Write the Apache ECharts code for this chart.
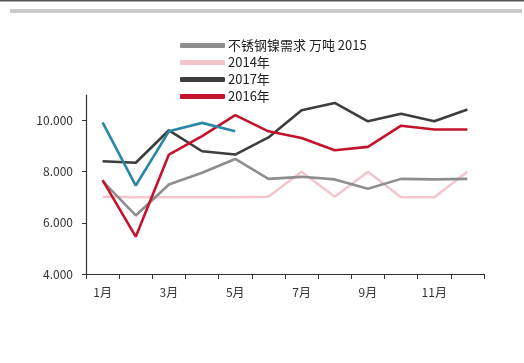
<!DOCTYPE html>
<html><head><meta charset="utf-8">
<script src="https://cdn.jsdelivr.net/npm/echarts@6/dist/echarts.min.js"></script>
<style>html,body{margin:0;padding:0;background:#fff}#c{width:524px;height:363px}</style>
</head><body><div id="c"></div>
<script>
const months = ['1月','2月','3月','4月','5月','6月','7月','8月','9月','10月','11月','12月'];
const yTicks = [4000, 6000, 8000, 10000];
const s2015Name = '不锈钢镍需求 万吨 2015';
const s2015 = [7630, 6290, 7500, 7960, 8500, 7720, 7800, 7700, 7330, 7720, 7700, 7720];
const s2014Name = '2014年';
const s2014 = [7020, 7000, 7000, 7000, 7000, 7020, 8000, 7020, 8000, 7000, 7000, 8000];
const s2017Name = '2017年';
const s2017 = [8410, 8350, 9620, 8800, 8670, 9340, 10400, 10690, 9970, 10270, 9970, 10430];
const s2016Name = '2016年';
const s2016 = [7670, 5460, 8670, 9390, 10210, 9580, 9320, 8840, 8970, 9800, 9650, 9650];
const s2018Name = '2018年';
const s2018 = [9930, 7460, 9580, 9910, 9580];

const font = '"Noto Sans CJK SC", "Noto Sans", sans-serif';
const chart = echarts.init(document.getElementById('c'), null, {renderer: 'canvas'});
function line(name, data, color, z) {
  return {name, type: 'line', data, symbol: 'none', z,
    lineStyle: {color, width: 2.6}, itemStyle: {color}};
}
chart.setOption({
  animation: false,
  graphic: [
    {type: 'rect', shape: {x: 0, y: 0, width: 524, height: 1.5}, style: {fill: '#555'}},
    {type: 'rect', shape: {x: 10, y: 9, width: 512, height: 4}, style: {fill: '#cacaca'}}
  ],
  grid: {left: 86, right: 40, top: 95, bottom: 89},
  legend: {
    orient: 'vertical', left: 180, top: 39, itemGap: 4, padding: 0,
    itemWidth: 45, itemHeight: 5, icon: 'roundRect',
    data: [s2015Name, s2014Name, s2017Name, s2016Name],
    textStyle: {fontFamily: font, fontSize: 13, color: '#222', padding: [0,0,0,-2]}
  },
  xAxis: {
    type: 'category', data: months, boundaryGap: true,
    axisLine: {lineStyle: {color: '#333', width: 1.2}},
    axisTick: {show: true, length: 5, lineStyle: {color: '#333'}, interval: 0},
    axisLabel: {interval: 1, color: '#333', fontFamily: font, fontSize: 12, margin: 12}
  },
  yAxis: {
    type: 'value', min: 4000, max: 11000,
    splitLine: {show: false},
    axisLine: {show: true, lineStyle: {color: '#333', width: 1.2}},
    axisTick: {show: true, length: 4, customValues: yTicks, lineStyle: {color: '#333'}},
    axisLabel: {customValues: yTicks, color: '#333', fontFamily: font, fontSize: 12, margin: 13,
      formatter: v => String(Math.floor(v / 1000)) + '.' + String(v % 1000).padStart(3, '0')}
  },
  series: [
    line(s2014Name, s2014, '#f5c5cc', 1),
    line(s2015Name, s2015, '#8e8e8e', 2),
    line(s2017Name, s2017, '#3d3d3d', 3),
    line(s2016Name, s2016, '#c4142b', 4),
    line(s2018Name, s2018, '#2b87a6', 5)
  ]
});
</script></body></html>
